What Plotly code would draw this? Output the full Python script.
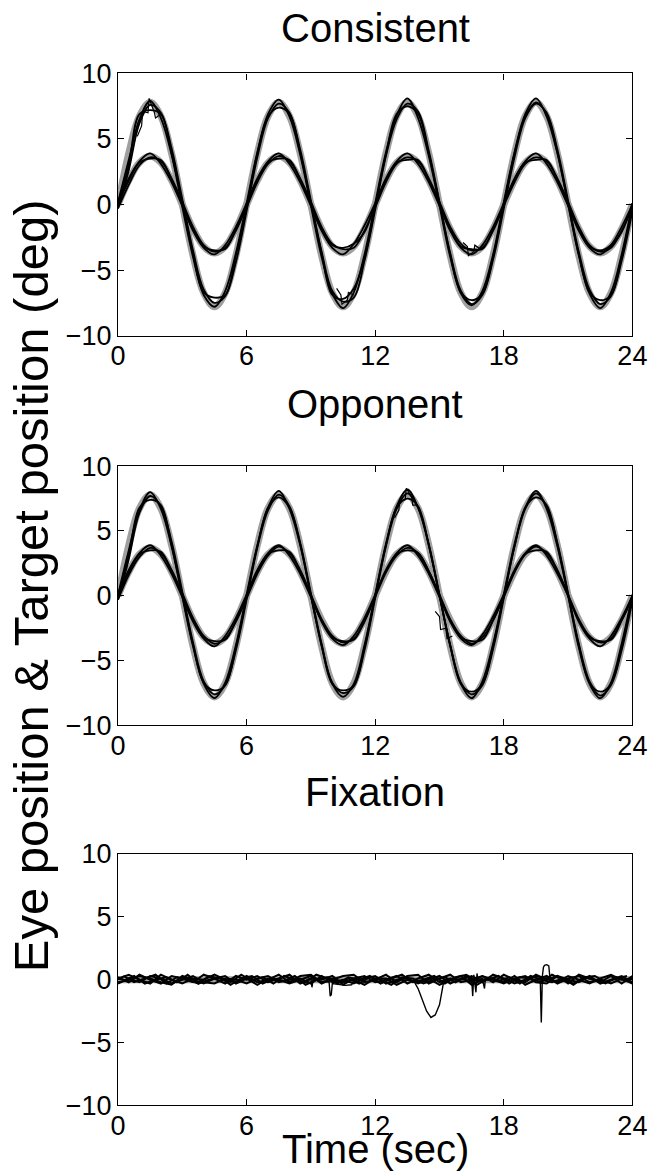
import plotly.graph_objects as go

W, H = 658, 1176

TIME = [0.0, 0.5, 1.0, 1.5, 2.0, 2.5, 3.0, 3.5, 4.0, 4.5, 5.0, 5.5,
        6.0, 6.5, 7.0, 7.5, 8.0, 8.5, 9.0, 9.5, 10.0, 10.5, 11.0, 11.5,
        12.0, 12.5, 13.0, 13.5, 14.0, 14.5, 15.0, 15.5, 16.0, 16.5, 17.0, 17.5,
        18.0, 18.5, 19.0, 19.5, 20.0, 20.5, 21.0, 21.5, 22.0, 22.5, 23.0, 23.5, 24.0]
TIME_MID = [0.25, 0.75, 1.25, 1.75, 2.25, 2.75, 3.25, 3.75, 4.25, 4.75, 5.25, 5.75,
            6.25, 6.75, 7.25, 7.75, 8.25, 8.75, 9.25, 9.75, 10.25, 10.75, 11.25, 11.75,
            12.25, 12.75, 13.25, 13.75, 14.25, 14.75, 15.25, 15.75, 16.25, 16.75, 17.25, 17.75,
            18.25, 18.75, 19.25, 19.75, 20.25, 20.75, 21.25, 21.75, 22.25, 22.75, 23.25, 23.75]

PANEL_TITLES = ["Consistent", "Opponent", "Fixation"]
X_TICKS = [0, 6, 12, 18, 24]
Y_TICKS = [-10, -5, 0, 5, 10]

# target positions (deg)
TARGET_LARGE = [0.0, 3.9, 6.75, 7.8, 6.75, 3.9, 0.0, -3.9, -6.75, -7.8, -6.75, -3.9,
                0.0, 3.9, 6.75, 7.8, 6.75, 3.9, 0.0, -3.9, -6.75, -7.8, -6.75, -3.9,
                0.0, 3.9, 6.75, 7.8, 6.75, 3.9, 0.0, -3.9, -6.75, -7.8, -6.75, -3.9,
                0.0, 3.9, 6.75, 7.8, 6.75, 3.9, 0.0, -3.9, -6.75, -7.8, -6.75, -3.9, 0.0]
TARGET_SMALL = [0.0, 1.85, 3.2, 3.7, 3.2, 1.85, 0.0, -1.85, -3.2, -3.7, -3.2, -1.85,
                0.0, 1.85, 3.2, 3.7, 3.2, 1.85, 0.0, -1.85, -3.2, -3.7, -3.2, -1.85,
                0.0, 1.85, 3.2, 3.7, 3.2, 1.85, 0.0, -1.85, -3.2, -3.7, -3.2, -1.85,
                0.0, 1.85, 3.2, 3.7, 3.2, 1.85, 0.0, -1.85, -3.2, -3.7, -3.2, -1.85, 0.0]
TARGET_FIX = [0.0] * 49

# Consistent: eye traces
CON_LARGE_A = [-0.3, 2.6, 6.2, 7.6, 7.0, 4.3, 0.4, -3.5, -6.5, -7.5, -7.0, -4.4,
               -0.5, 3.6, 6.6, 7.7, 7.0, 4.2, 0.3, -3.6, -6.6, -7.4, -7.1, -4.3,
               -0.4, 3.7, 6.5, 7.7, 7.1, 4.1, 0.2, -3.7, -6.6, -7.6, -6.9, -4.2,
               -0.3, 3.6, 6.6, 7.7, 7.0, 4.2, 0.3, -3.6, -6.5, -7.6, -7.0, -4.3, -0.5]
CON_LARGE_B = [0.2, 3.4, 6.5, 7.9, 6.6, 3.8, -0.2, -4.0, -6.9, -7.8, -6.6, -3.7,
               0.1, 4.0, 6.9, 8.0, 6.7, 3.8, -0.1, -4.0, -6.8, -7.9, -6.7, -3.8,
               0.1, 4.0, 6.8, 8.1, 6.6, 3.7, -0.1, -4.0, -6.8, -7.7, -6.6, -3.8,
               0.2, 4.0, 6.9, 8.1, 6.7, 3.9, 0.0, -3.9, -6.8, -7.9, -6.7, -3.8, 0.1]
CON_LARGE_C = [0.0, 3.0, 6.9, 7.2, 6.9, 3.9, 0.2, -3.8, -6.7, -7.1, -6.9, -3.9,
               -0.2, 3.9, 6.7, 7.4, 6.9, 4.0, 0.1, -3.7, -6.9, -7.2, -6.4, -4.1,
               -0.1, 3.8, 6.9, 7.5, 6.9, 3.9, 0.1, -3.8, -6.7, -7.3, -6.8, -4.0,
               0.0, 3.9, 6.7, 7.8, 6.9, 4.0, 0.1, -3.8, -6.7, -7.3, -6.9, -4.0, -0.2]
CON_SMALL_A = [-0.3, 1.5, 3.0, 3.6, 3.3, 2.0, 0.2, -1.7, -3.1, -3.6, -3.3, -2.0,
               -0.2, 1.7, 3.1, 3.7, 3.3, 2.0, 0.2, -1.7, -3.0, -3.4, -3.3, -2.0,
               -0.2, 1.7, 3.1, 3.6, 3.3, 2.0, 0.2, -1.7, -3.0, -3.5, -3.3, -2.0,
               -0.1, 1.7, 3.1, 3.6, 3.3, 2.0, 0.2, -1.7, -3.1, -3.6, -3.3, -2.0, -0.2]
CON_SMALL_B = [0.1, 2.0, 3.3, 3.9, 3.1, 1.7, -0.1, -2.0, -3.3, -3.8, -3.1, -1.7,
               0.1, 2.0, 3.3, 3.9, 3.1, 1.7, -0.1, -2.0, -3.3, -3.8, -3.0, -1.6,
               0.1, 2.0, 3.3, 3.9, 3.1, 1.7, -0.1, -2.0, -3.3, -3.8, -3.1, -1.7,
               0.1, 2.0, 3.3, 3.9, 3.1, 1.7, -0.1, -2.0, -3.3, -3.8, -3.1, -1.7, 0.0]
CON_SMALL_C = [0.0, 1.8, 3.2, 3.5, 3.4, 1.9, 0.0, -1.9, -3.2, -3.5, -3.4, -1.9,
               0.0, 1.9, 3.2, 3.5, 3.4, 1.9, 0.0, -1.9, -3.1, -3.3, -3.0, -2.1,
               0.0, 1.9, 3.2, 3.4, 3.4, 1.9, 0.0, -1.9, -3.2, -3.4, -3.4, -1.9,
               0.0, 1.9, 3.2, 3.4, 3.4, 1.9, 0.0, -1.9, -3.2, -3.5, -3.1, -2.1, 0.1]
# short catch-up saccade segments (Consistent)
CON_SAC_T = [0.9, 1.1, 1.15, 1.4, 1.45, 1.7, 1.75, 2.0]
CON_SAC_Y = [5.2, 6.0, 7.1, 7.0, 8.1, 7.0, 6.6, 6.9]
CON_SAC2_T = [10.2, 10.4, 10.45, 10.7, 10.75, 11.0]
CON_SAC2_Y = [-6.4, -6.9, -7.6, -7.3, -6.7, -6.9]
CON_SAC3_T = [16.1, 16.3, 16.35, 16.6, 16.65, 16.9]
CON_SAC3_Y = [-2.9, -3.2, -3.9, -3.6, -3.1, -3.4]

# Opponent: eye traces
OPP_LARGE_A = [-0.3, 2.8, 6.4, 7.7, 6.9, 4.2, 0.3, -3.6, -6.6, -7.6, -6.9, -4.2,
               -0.3, 3.7, 6.6, 7.8, 6.9, 4.1, 0.2, -3.7, -6.7, -7.5, -7.0, -4.2,
               -0.2, 3.8, 6.7, 7.9, 6.8, 4.0, 0.1, -3.8, -6.7, -7.6, -6.9, -4.1,
               -0.2, 3.8, 6.7, 7.9, 6.9, 4.1, 0.2, -3.7, -6.6, -7.7, -6.9, -4.2, -0.4]
OPP_LARGE_B = [0.1, 3.5, 6.6, 8.0, 6.7, 3.8, -0.1, -3.9, -6.8, -7.9, -6.7, -3.8,
               0.1, 3.9, 6.8, 8.1, 6.7, 3.9, 0.0, -3.9, -6.8, -7.8, -6.8, -3.8,
               0.1, 4.0, 6.9, 8.2, 6.8, 3.9, 0.0, -3.9, -6.8, -7.9, -6.6, -3.7,
               0.1, 4.0, 6.8, 8.1, 6.7, 3.8, 0.0, -4.0, -6.8, -7.9, -6.7, -3.7, 0.1]
OPP_LARGE_C = [0.0, 3.1, 6.8, 7.4, 7.0, 3.9, 0.1, -3.8, -6.7, -7.3, -6.9, -4.0,
               -0.1, 3.8, 6.8, 7.6, 6.8, 4.0, 0.0, -3.8, -6.8, -7.3, -6.9, -4.0,
               0.0, 3.9, 6.8, 7.5, 6.9, 3.9, 0.0, -3.8, -6.8, -7.4, -6.8, -3.9,
               0.0, 3.8, 6.8, 7.6, 7.0, 4.0, 0.1, -3.8, -6.7, -7.4, -6.8, -3.9, -0.1]
OPP_SMALL_A = [-0.3, 1.6, 3.0, 3.7, 3.3, 2.0, 0.2, -1.7, -3.1, -3.7, -3.3, -2.0,
               -0.2, 1.7, 3.1, 3.8, 3.3, 2.0, 0.1, -1.8, -3.1, -3.6, -3.3, -2.0,
               -0.1, 1.8, 3.1, 3.7, 3.3, 1.9, 0.1, -1.8, -3.1, -3.7, -3.2, -1.9,
               -0.1, 1.8, 3.2, 3.8, 3.3, 2.0, 0.1, -1.8, -3.1, -3.6, -3.3, -1.9, -0.2]
OPP_SMALL_B = [0.1, 2.0, 3.3, 3.9, 3.1, 1.7, -0.1, -2.0, -3.3, -3.9, -3.1, -1.7,
               0.1, 2.0, 3.3, 3.9, 3.1, 1.7, -0.1, -2.0, -3.3, -3.8, -3.1, -1.7,
               0.1, 2.0, 3.3, 3.9, 3.1, 1.7, -0.1, -2.0, -3.3, -3.8, -3.0, -1.6,
               0.1, 2.0, 3.3, 3.9, 3.1, 1.7, 0.0, -2.0, -3.3, -3.9, -3.1, -1.7, 0.0]
OPP_SMALL_C = [0.0, 1.8, 3.2, 3.5, 3.4, 1.9, 0.0, -1.9, -3.2, -3.5, -3.4, -1.9,
               0.0, 1.9, 3.2, 3.5, 3.4, 1.9, 0.0, -1.9, -3.2, -3.5, -3.4, -1.9,
               0.0, 1.9, 3.2, 3.5, 3.3, 1.9, 0.0, -1.9, -3.2, -3.5, -3.4, -1.9,
               0.0, 1.9, 3.2, 3.5, 3.4, 1.9, 0.0, -1.9, -3.2, -3.5, -3.4, -1.9, 0.0]
OPP_SAC_T = [12.9, 13.1, 13.15, 13.4, 13.45, 13.7, 13.75, 14.0]
OPP_SAC_Y = [6.0, 6.6, 7.3, 7.4, 8.3, 7.6, 7.0, 7.0]
OPP_SAC2_T = [14.8, 15.0, 15.05, 15.3, 15.35, 15.6]
OPP_SAC2_Y = [-1.2, -1.6, -2.6, -2.5, -3.3, -3.1]

# Fixation: eye traces (noise band) and excursions
FIX_A = [0.2, -0.2, 0.4, 0.0, -0.3, 0.3, 0.1, -0.2, 0.4, 0.1, -0.3, 0.3,
         0.0, 0.3, -0.2, 0.1, 0.4, -0.3, 0.1, 0.0, 0.3, -0.4, 0.1, 0.3,
         -0.2, 0.0, 0.3, -0.3, 0.1, 0.4, -0.2, 0.1, 0.0, 0.3, -0.2, 0.4,
         0.1, -0.3, 0.0, 0.3, 0.1, -0.2, 0.3, 0.0, -0.3, 0.1, 0.4, 0.0, 0.1]
FIX_B = [-0.3, 0.1, -0.2, 0.3, 0.1, -0.3, 0.0, 0.3, -0.2, -0.3, 0.1, 0.0,
         -0.3, 0.1, 0.3, -0.2, 0.0, 0.1, -0.3, 0.3, -0.2, 0.0, -0.3, 0.1,
         0.3, -0.3, 0.0, 0.1, -0.3, 0.0, 0.3, -0.3, 0.1, -0.2, 0.3, 0.0,
         -0.3, 0.1, 0.3, -0.2, -0.3, 0.3, 0.0, -0.2, 0.3, -0.3, 0.0, 0.3, -0.2]
FIX_C = [0.1, 0.4, 0.0, -0.3, 0.4, 0.0, -0.3, 0.1, 0.0, 0.4, 0.0, -0.2,
         0.3, -0.2, 0.0, 0.4, -0.2, 0.3, 0.4, -0.2, 0.0, 0.3, 0.4, -0.2,
         0.0, 0.4, -0.2, 0.3, 0.4, -0.3, 0.1, 0.4, -0.2, 0.0, 0.3, -0.2,
         0.4, 0.0, -0.2, 0.4, 0.0, 0.3, -0.3, 0.4, 0.1, -0.2, 0.3, -0.3, 0.3]
FIX_D = [-0.2, 0.0, 0.3, 0.1, -0.2, -0.4, 0.3, 0.0, -0.3, 0.1, 0.3, -0.3,
         0.1, -0.4, 0.1, 0.0, -0.3, 0.0, 0.3, -0.3, 0.1, -0.2, 0.0, -0.4,
         0.1, 0.1, -0.4, 0.0, -0.2, 0.1, -0.4, 0.0, 0.3, -0.4, 0.0, 0.1,
         -0.2, 0.3, -0.4, 0.0, 0.3, -0.3, 0.1, 0.3, -0.2, 0.0, -0.3, 0.1, -0.3]
FIX_E = [0.3, -0.2, 0.1, 0.4, -0.3, 0.2, 0.0, -0.3, 0.3, 0.1, -0.2, 0.4,
         -0.1, 0.2, -0.3, 0.3, 0.0, -0.2, 0.4, 0.1, -0.3, 0.2, 0.0, 0.3,
         -0.3, 0.1, 0.4, -0.2, 0.0, 0.3, -0.3, 0.2, 0.4, -0.1, 0.0, 0.3,
         -0.3, 0.2, 0.1, -0.2, 0.4, 0.0, -0.3, 0.2, 0.3, -0.2, 0.1, 0.3]
FIX_F = [-0.1, 0.3, -0.3, 0.0, 0.2, -0.2, 0.4, -0.3, 0.0, 0.2, -0.4, 0.1,
         0.3, -0.3, 0.1, -0.1, 0.3, -0.4, 0.0, 0.2, -0.2, 0.1, -0.3, 0.2,
         0.0, -0.4, 0.2, 0.1, -0.3, 0.0, 0.2, -0.2, 0.3, -0.4, 0.1, -0.1,
         0.2, -0.3, 0.3, 0.0, -0.2, 0.1, -0.4, 0.2, 0.0, -0.3, 0.2, -0.1]

EXC1_T = [9.6, 9.85, 9.9, 9.95, 10.0, 10.3, 10.6, 10.9, 11.0]
EXC1_Y = [-0.1, -0.2, -1.3, -1.2, -0.3, -0.4, -0.45, -0.4, -0.1]
EXC2_T = [13.6, 13.8, 14.0, 14.2, 14.4, 14.6, 14.8, 15.0, 15.1, 15.2, 15.4]
EXC2_Y = [0.0, -0.1, -0.7, -1.6, -2.5, -3.0, -2.8, -2.0, -0.9, -0.1, 0.0]
EXC3_T = [16.3, 16.5, 16.55, 16.6, 16.7, 16.75, 16.8, 17.0, 17.1, 17.15, 17.3]
EXC3_Y = [0.0, 0.1, -1.3, 0.4, -1.0, 0.5, 0.0, 0.1, -0.7, 0.2, 0.0]
EXC4_T = [19.5, 19.7, 19.75, 19.8, 19.85, 19.9, 20.0, 20.1, 20.15, 20.3]
EXC4_Y = [0.0, 0.1, -3.4, 0.3, 1.0, 1.15, 1.2, 1.1, 0.2, 0.0]
EXC5_T = [8.8, 9.0, 9.05, 9.1, 9.3]
EXC5_Y = [0.0, 0.1, -0.6, 0.0, 0.1]

# ---------------------------------------------------------------- layout
X_LEFT, X_RIGHT = 114, 647
PANELS_PX = [(60, 329), (463, 729), (861, 1119)]  # top, bottom in px
TITLE_Y_PX = [13, 399, 797]

GREY = "#a0a0a0"
FONT = "Liberation Sans, Arial, Helvetica, sans-serif"

fig = go.Figure()


def add_line(idx, x, y, color, width, shape="spline"):
    ax = "" if idx == 0 else str(idx + 1)
    fig.add_trace(go.Scatter(
        x=x, y=y, mode="lines",
        line=dict(color=color, width=width, shape=shape, smoothing=1.0),
        xaxis="x" + ax, yaxis="y" + ax, showlegend=False, hoverinfo="skip"))


EYE_W = 1.8

# Consistent
add_line(0, TIME, TARGET_LARGE, GREY, 7)
add_line(0, TIME, TARGET_SMALL, GREY, 7)
for tr in (CON_LARGE_A, CON_LARGE_B, CON_LARGE_C, CON_SMALL_A, CON_SMALL_B, CON_SMALL_C):
    add_line(0, TIME, tr, "black", EYE_W)
for tx, ty in ((CON_SAC_T, CON_SAC_Y), (CON_SAC2_T, CON_SAC2_Y), (CON_SAC3_T, CON_SAC3_Y)):
    add_line(0, tx, ty, "black", 1.2, "linear")

# Opponent
add_line(1, TIME, TARGET_LARGE, GREY, 7)
add_line(1, TIME, TARGET_SMALL, GREY, 7)
for tr in (OPP_LARGE_A, OPP_LARGE_B, OPP_LARGE_C, OPP_SMALL_A, OPP_SMALL_B, OPP_SMALL_C):
    add_line(1, TIME, tr, "black", EYE_W)
for tx, ty in ((OPP_SAC_T, OPP_SAC_Y), (OPP_SAC2_T, OPP_SAC2_Y)):
    add_line(1, tx, ty, "black", 1.2, "linear")

# Fixation
add_line(2, TIME, TARGET_FIX, GREY, 7, "linear")
for tr in (FIX_A, FIX_B, FIX_C, FIX_D):
    add_line(2, TIME, tr, "black", 2.0, "linear")
for tr in (FIX_E, FIX_F):
    add_line(2, TIME_MID, tr, "black", 2.0, "linear")
for tx, ty in ((EXC1_T, EXC1_Y), (EXC2_T, EXC2_Y), (EXC3_T, EXC3_Y),
               (EXC4_T, EXC4_Y), (EXC5_T, EXC5_Y)):
    add_line(2, tx, ty, "black", 1.4, "linear")

axis_common = dict(
    showline=True, linecolor="black", linewidth=1.2, mirror="ticks",
    ticks="inside", ticklen=6, tickwidth=1, tickcolor="black",
    showgrid=False, zeroline=False, ticklabeloverflow="allow",
    tickfont=dict(family=FONT, size=27, color="black"),
)

layout = dict(
    width=W, height=H, margin=dict(l=0, r=0, t=0, b=0),
    paper_bgcolor="white", plot_bgcolor="white",
    font=dict(family=FONT, color="black"),
    showlegend=False,
)
annotations = []
for i, (top, bot) in enumerate(PANELS_PX):
    ax = "" if i == 0 else str(i + 1)
    layout["xaxis" + ax] = dict(
        axis_common, domain=[X_LEFT / W, X_RIGHT / W], range=[0, 24],
        tickvals=X_TICKS, anchor="y" + ax, ticklabelstandoff=-4)
    layout["yaxis" + ax] = dict(
        axis_common, domain=[1 - bot / H, 1 - top / H], range=[-10, 10],
        tickvals=Y_TICKS, anchor="x" + ax)
    annotations.append(dict(
        text=PANEL_TITLES[i], x=(X_LEFT + X_RIGHT) / 2 / W, y=1 - TITLE_Y_PX[i] / H,
        xref="paper", yref="paper", showarrow=False, xanchor="center", yanchor="middle",
        font=dict(family=FONT, size=40, color="black")))

annotations.append(dict(
    text="Time (sec)", x=(X_LEFT + X_RIGHT) / 2 / W, y=0,
    xref="paper", yref="paper", showarrow=False, xanchor="center", yanchor="bottom",
    yshift=-12, font=dict(family=FONT, size=40, color="black")))
annotations.append(dict(
    text="Eye position & Target position (deg)", x=24 / W, y=1 - 586 / H,
    xref="paper", yref="paper", showarrow=False, xanchor="center", yanchor="middle",
    textangle=-90, font=dict(family=FONT, size=49, color="black")))
layout["annotations"] = annotations

fig.update_layout(**layout)
fig.write_html("out.html", config={"displayModeBar": False},
               post_script="document.body.style.margin='0';document.body.style.overflow='hidden';")
